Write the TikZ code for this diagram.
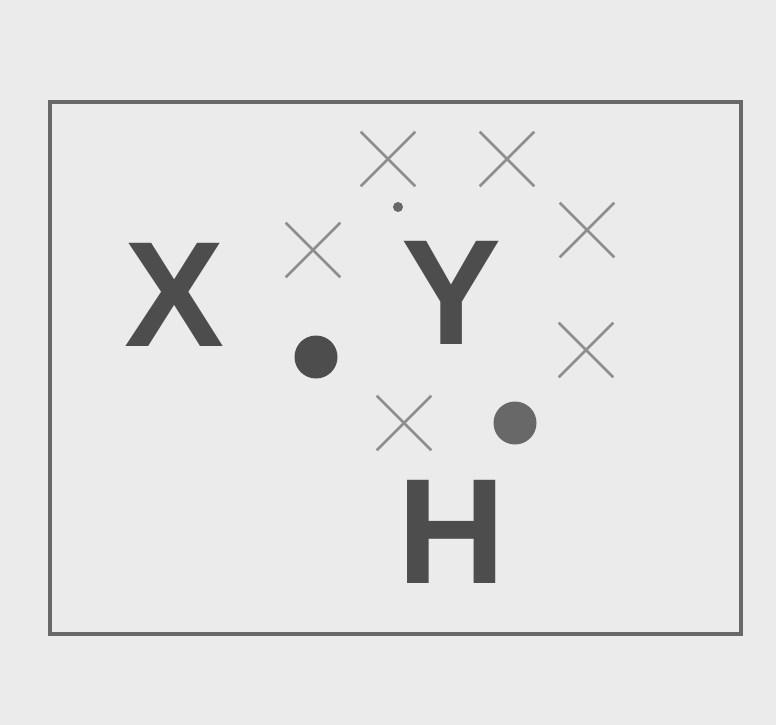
\documentclass[tikz,border=0pt]{standalone}
\usepackage{fontspec}
\setmainfont{Liberation Sans}
\usepackage{tikz}
\usetikzlibrary{shapes.misc}
\usepackage{xcolor}
\definecolor{paper}{HTML}{EBEBEB}
\definecolor{ink}{HTML}{4D4D4D}
\definecolor{faint}{HTML}{8E8E8E}

\tikzset{
  letter/.style={inner sep=0pt, text=ink, font=\fontsize{150}{150}\selectfont\bfseries},
  crossmark/.style={cross out, draw=faint, line width=2.6pt, minimum size=52pt, inner sep=0pt},
  blob/.style={circle, fill=#1, inner sep=0pt, minimum size=43pt}
}

\begin{document}
\begin{tikzpicture}[x=1pt, y=-1pt]
    \fill[paper] (0,0) rectangle (776,725);
    \useasboundingbox (0,0) rectangle (776,725);
    \draw[line width=3.5pt, color=ink!85] (50,102) rectangle (741,634);
    \node[letter] (x) at (175,295) {X};
    \node[letter] (y) at (452,293) {Y};
    \node[letter] (h) at (452,532) {H};
    \node[blob=ink] (d1) at (316,357) {};
    \node[blob=ink!85] (d2) at (515,423) {};
    \node[circle, fill=ink!85, inner sep=0pt, minimum size=10pt] (d0) at (398,207) {};
    \node[crossmark] (c1) at (388,159) {};
    \node[crossmark] (c2) at (507,159) {};
    \node[crossmark] (c3) at (313,250) {};
    \node[crossmark] (c4) at (587,230) {};
    \node[crossmark] (c5) at (586,350) {};
    \node[crossmark] (c6) at (404,423) {};
    \end{tikzpicture}
\end{document}
